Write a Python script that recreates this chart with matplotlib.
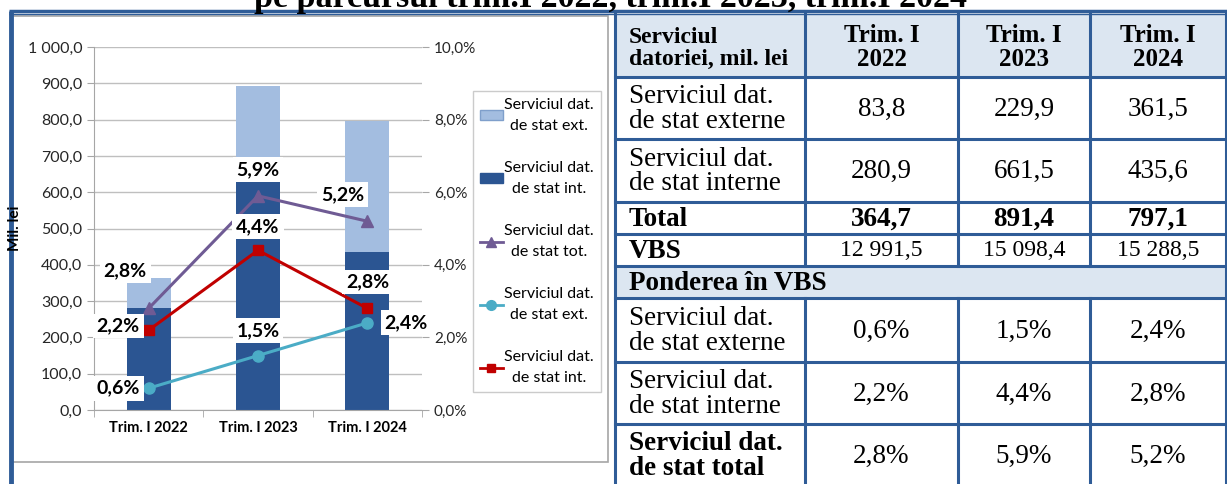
import numpy as np
import matplotlib.pyplot as plt
from matplotlib.lines import Line2D
from matplotlib.patches import Rectangle

# data
periods = ["Trim. I 2022", "Trim. I 2023", "Trim. I 2024"]
ext_serv = [83.8, 229.9, 361.5]
int_serv = [280.9, 661.5, 435.6]
tot_serv = [364.7, 891.4, 797.1]
vbs = [12991.5, 15098.4, 15288.5]
ext_pct = [0.6, 1.5, 2.4]
int_pct = [2.2, 4.4, 2.8]
tot_pct = [2.8, 5.9, 5.2]

W, H = 1227, 484
DARK = "#2B5592"
LIGHT = "#A3BDE0"
PURPLE = "#6F5B94"
CYAN = "#4BACC6"
RED = "#C00000"
FRAME = "#2F5C97"
SHADE = "#DCE6F1"
SANS = ["Lato", "DejaVu Sans"]
SERIF = ["Liberation Serif", "DejaVu Serif"]


def rect(x0, y0, x1, y1):
    return [x0 / W, 1 - y1 / H, (x1 - x0) / W, (y1 - y0) / H]


def fmt(v, d=1):
    s = f"{v:,.{d}f}"
    return s.replace(",", " ").replace(".", ",")


fig = plt.figure(figsize=(W / 100, H / 100), dpi=100)

# background canvas in pixel coords (frame + table)
bg = fig.add_axes([0, 0, 1, 1], zorder=0)
bg.set_xlim(0, W)
bg.set_ylim(H, 0)
bg.axis("off")

# title is cut by the top edge in the source picture
bg.text(610, 7, "pe parcursul trim.I 2022, trim.I 2023, trim.I 2024",
        ha="center", va="baseline", fontsize=24.5, fontweight="bold",
        family=SERIF)

# chart panel
bg.add_patch(Rectangle((12, 16), 596, 446, fc="white", ec="#A6A6A6", lw=1.2))

# outer frame
bg.plot([10.5, 10.5], [11, H], color=FRAME, lw=3.5, solid_capstyle="butt")
bg.plot([9, W], [10.5, 10.5], color=FRAME, lw=2.5, solid_capstyle="butt")
bg.plot([9, W], [13.5, 13.5], color=FRAME, lw=1.0, solid_capstyle="butt")

# table
cols = [615, 805, 958, 1090, 1226]
rows = [14, 77, 139, 202, 234, 266, 298, 362, 424, 490]
bg.add_patch(Rectangle((cols[0], rows[0]), cols[-1] - cols[0], rows[1] - rows[0],
                       fc=SHADE, ec="none"))
bg.add_patch(Rectangle((cols[0], rows[5]), cols[-1] - cols[0], rows[6] - rows[5],
                       fc=SHADE, ec="none"))
for y in rows[1:-1]:
    bg.plot([cols[0], cols[-1]], [y, y], color=FRAME, lw=2.2)
for i, x in enumerate(cols):
    if i in (1, 2, 3):
        bg.plot([x, x], [rows[0], rows[5]], color=FRAME, lw=2.2)
        bg.plot([x, x], [rows[6], H], color=FRAME, lw=2.2)
    else:
        bg.plot([x, x], [rows[0], H], color=FRAME, lw=2.2)

tx = cols[0] + 14
cx = [(cols[i] + cols[i + 1]) / 2 for i in range(1, 4)]


def rowc(i):
    return (rows[i] + rows[i + 1]) / 2


BODY = 19.5
bg.text(tx, rowc(0) + 3, "Serviciul\ndatoriei, mil. lei", ha="left", va="center",
        fontsize=17, fontweight="bold", family=SERIF, linespacing=1.1)
for j, p in enumerate(periods):
    bg.text(cx[j], rowc(0) + 2, p.replace("I ", "I\n"), ha="center", va="center",
            fontsize=18, fontweight="bold", family=SERIF, linespacing=1.0)

row_specs = [
    (1, "Serviciul dat.\nde stat externe", [fmt(v) for v in ext_serv], "normal", BODY),
    (2, "Serviciul dat.\nde stat interne", [fmt(v) for v in int_serv], "normal", BODY),
    (3, "Total", [fmt(v) for v in tot_serv], "bold", BODY),
    (4, "VBS", [fmt(v) for v in vbs], "normal", 17),
    (6, "Serviciul dat.\nde stat externe", [fmt(v) + "%" for v in ext_pct], "normal", BODY),
    (7, "Serviciul dat.\nde stat interne", [fmt(v) + "%" for v in int_pct], "normal", BODY),
    (8, "Serviciul dat.\nde stat total", [fmt(v) + "%" for v in tot_pct], "normal", BODY),
]
for i, lab, vals, w, fs in row_specs:
    yc = rowc(i) if i != 8 else 455
    lw_ = "bold" if (lab in ("Total", "VBS") or i == 8) else "normal"
    bg.text(tx, yc + 1, lab, ha="left", va="center", fontsize=BODY,
            fontweight=lw_, family=SERIF, linespacing=0.95)
    for j, v in enumerate(vals):
        bg.text(cx[j], yc + 1, v, ha="center", va="center", fontsize=fs,
                fontweight=w, family=SERIF)
bg.text(tx, rowc(5) + 1, "Ponderea în VBS", ha="left", va="center",
        fontsize=BODY, fontweight="bold", family=SERIF)

# chart
ax = fig.add_axes(rect(94, 47, 422, 410), zorder=2)
ax.patch.set_alpha(0)
x = np.arange(len(periods))
ax.bar(x, int_serv, width=0.4, color=DARK, zorder=2)
ax.bar(x, ext_serv, bottom=int_serv, width=0.4, color=LIGHT, zorder=2)
ax.set_xlim(-0.5, 2.5)
ax.set_ylim(0, 1000)
ax.set_yticks(np.arange(0, 1001, 100))
ax.set_yticklabels([fmt(v) for v in np.arange(0, 1001, 100)], family=SANS,
                   fontsize=11.5, color="#262626")
ax.yaxis.grid(True, color="#BFBFBF", lw=1)
ax.set_axisbelow(True)
ax.set_xticks(x)
ax.set_xticklabels(periods, family=SANS, fontsize=10.5, fontweight="bold")
ax.set_xticks([-0.5, 0.5, 1.5, 2.5], minor=True)
ax.tick_params(axis="x", which="major", length=0, pad=8)
ax.tick_params(axis="x", which="minor", length=5, color="#A6A6A6")
ax.tick_params(axis="y", length=5, color="#A6A6A6")
for s in ("top", "right"):
    ax.spines[s].set_visible(False)
for s in ("left", "bottom"):
    ax.spines[s].set_color("#A6A6A6")
ax.set_ylabel("Mil. lei", family=SANS, fontsize=11, fontweight="bold", labelpad=4)

ax2 = ax.twinx()
ax2.set_ylim(0, 10)
ax2.set_yticks(np.arange(0, 10.1, 2))
ax2.set_yticklabels([fmt(v) + "%" for v in np.arange(0, 10.1, 2)], family=SANS,
                    fontsize=11, color="#262626")
ax2.tick_params(axis="y", length=5, color="#A6A6A6")
for s in ax2.spines.values():
    s.set_visible(False)
ax2.plot(x, tot_pct, color=PURPLE, lw=2.2, marker="^", ms=8, zorder=3)
ax2.plot(x, ext_pct, color=CYAN, lw=2.2, marker="o", ms=8, zorder=3)
ax2.plot(x, int_pct, color=RED, lw=2.2, marker="s", ms=7, zorder=3)

box = dict(boxstyle="square,pad=0.2", fc="white", ec="none")
lab_offsets = [
    (tot_pct, [(-17, 27), (0, 19), (-18, 19)]),
    (int_pct, [(-22, 3), (0, 17), (0, 19)]),
    (ext_pct, [(-22, 0), (0, 18), (28, 0)]),
]
for series, offs in lab_offsets:
    for xi, v, (dx, dy) in zip(x, series, offs):
        ax2.annotate(fmt(v) + "%", (xi, v), xytext=(dx, dy), textcoords="offset points",
                     ha="center", va="center", fontsize=14, fontweight="bold",
                     family=SANS, bbox=box, zorder=5)

handles = [
    Rectangle((0, 0), 1, 1, fc=LIGHT, ec="#7F9FCB"),
    Rectangle((0, 0), 1, 1, fc=DARK, ec=DARK),
    Line2D([], [], color=PURPLE, lw=2, marker="^", ms=7),
    Line2D([], [], color=CYAN, lw=2, marker="o", ms=7),
    Line2D([], [], color=RED, lw=2, marker="s", ms=6),
]
labels = ["Serviciul dat.\nde stat ext.", "Serviciul dat.\nde stat int.",
          "Serviciul dat.\nde stat tot.", "Serviciul dat.\nde stat ext.",
          "Serviciul dat.\nde stat int."]
leg = fig.legend(handles, labels, loc="upper left",
                 bbox_to_anchor=(473 / W, 1 - 91 / H), prop={"family": SANS, "size": 11.5},
                 frameon=True, fancybox=False, edgecolor="#BFBFBF",
                 handlelength=1.4, handleheight=0.6, handletextpad=0.1,
                 labelspacing=1.78, borderpad=0.45, borderaxespad=0)
for t in leg.get_texts():
    t.set_multialignment("center")
    t.set_linespacing(1.6)

fig.savefig("out.png", dpi=100)
